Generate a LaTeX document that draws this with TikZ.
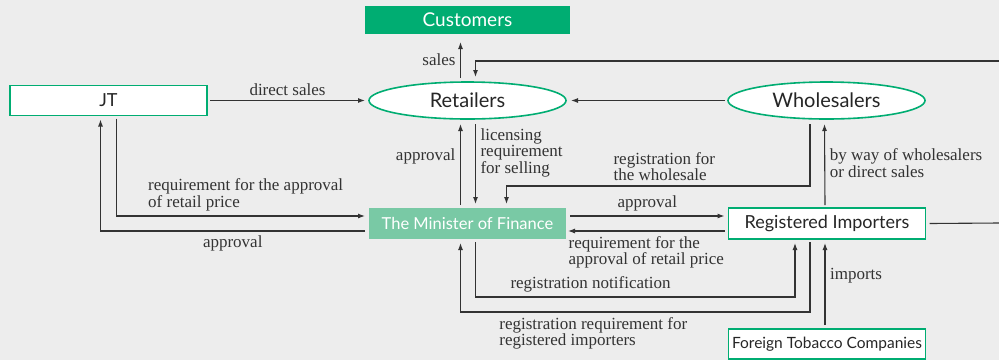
\documentclass[tikz,border=0pt]{standalone}
\usepackage{fontspec}
\setmainfont{Liberation Serif}
\newfontfamily\boxfont{Lato}
\usetikzlibrary{calc,arrows.meta,shapes.geometric}
\definecolor{bggray}{HTML}{EDEDED}
\definecolor{tgreen}{HTML}{00AD72}
\definecolor{lgreen}{HTML}{79C9A5}
\definecolor{lnclr}{HTML}{333333}
\newcommand{\bfs}[1]{\boxfont\fontsize{#1}{#1}\selectfont}
\tikzset{
  box/.style={draw=tgreen,line width=1.6pt,fill=white,rectangle,inner sep=0pt,outer sep=0pt,
    minimum width=197pt,minimum height=30pt,font=\bfs{18},text=black!85},
  oval/.style={box,ellipse,minimum height=37pt,font=\bfs{20}},
  solid box/.style={rectangle,inner sep=0pt,outer sep=0pt,minimum width=197pt,minimum height=30pt,
    font=\bfs{16.5},text=white},
  arr/.style={draw=lnclr,line width=1.1pt,-{Latex[length=7pt,width=5pt]}},
  ln/.style={draw=lnclr,line width=1.1pt},
  lbl/.style={font=\fontsize{17}{16.5}\selectfont,text=lnclr,align=left,inner sep=4.5pt},
}
\begin{document}
\begin{tikzpicture}[x=1pt,y=-1pt]
  \fill[bggray] (0,0) rectangle (999,360);
  \useasboundingbox (0,0) rectangle (999,360);
  % nodes
  \node[solid box,fill=tgreen,minimum width=205pt,minimum height=28pt,font=\bfs{19}] (cust) at (467.5,20) {Customers};
  \node[box] (jt) at (108.5,100.5) {JT};
  \node[oval] (ret) at (467.5,100.5) {Retailers};
  \node[oval] (whl) at (826.5,100.5) {Wholesalers};
  \node[solid box,fill=lgreen,minimum height=31pt] (mof) at (467.5,223.5) {The Minister of Finance};
  \node[box,minimum height=31pt] (imp) at (827,223.5) {Registered Importers};
  \node[box,font=\bfs{15.5}] (ftc) at (827,344) {Foreign Tobacco Companies};
  \coordinate (eR1) at (999,61);
  \coordinate (eR2) at (999,223);
  % retailers
  \draw[arr] ($(ret.north)+(-7,-4)$) -- node[lbl,left]{sales} ($(cust.south)+(-7,8)$);
  \draw[arr] (eR1) -| ($(ret.north)+(8,-5)$);
  \draw[arr] ($(jt.east)+(3,0)$) -- node[lbl,above]{direct sales} ($(ret.west)+(-4,0)$);
  \draw[arr] ($(whl.west)+(-3,0)$) -- ($(ret.east)+(5,0)$);
  \draw[arr] ($(mof.north)+(-7,-3)$) -- node[lbl,left,pos=0.6]{approval} ($(ret.south)+(-7,5)$);
  \draw[arr] ($(ret.south)+(8,5)$) -- node[lbl,right,pos=0.36]{licensing\\requirement\\for selling} ($(mof.north)+(8,-4)$);
  % wholesalers
  \draw[arr] ($(whl.south)+(-16.5,5)$) -- ++(0,62) -- node[lbl,above,pos=0.48]{registration for\\the wholesale} ($(mof.north)+(39,-22)$) -- ($(mof.north)+(39,-4)$);
  \draw[arr] ($(imp.north)+(-2,-3)$) -- node[lbl,right,pos=0.52]{by way of wholesalers\\or direct sales} ($(whl.south)+(-2,5)$);
  \draw[ln] ($(imp.east)+(4,0)$) -- (eR2);
  % JT and the minister
  \draw[arr] ($(jt.south)+(8,3)$) |- node[lbl,above,pos=0.76]{requirement for the approval\\of retail price} ($(mof.west)+(-4,-7.5)$);
  \draw[arr] ($(mof.west)+(-4,7.5)$) -| node[lbl,below,pos=0.25]{approval} ($(jt.south)+(-8,4)$);
  % importers and the minister
  \draw[arr] ($(mof.east)+(4,-7.5)$) -- node[lbl,above]{approval} ($(imp.west)+(-4,-7.5)$);
  \draw[arr] ($(imp.west)+(-4,7.5)$) -- node[lbl,below]{requirement for the\\approval of retail price} ($(mof.east)+(2,7.5)$);
  \draw[arr] ($(mof.south)+(8,3)$) -- ++(0,55) -| node[lbl,above,pos=0.18]{registration notification} ($(imp.south)+(-32,4)$);
  \draw[arr] ($(imp.south)+(-17,3)$) -- ++(0,70) -| node[lbl,below,pos=0.31]{registration requirement for\\registered importers} ($(mof.south)+(-7,4)$);
  \draw[arr] ($(ftc.north)+(-2,-4)$) -- node[lbl,right,pos=0.6]{imports} ($(imp.south)+(-2,4)$);
\end{tikzpicture}
\end{document}
